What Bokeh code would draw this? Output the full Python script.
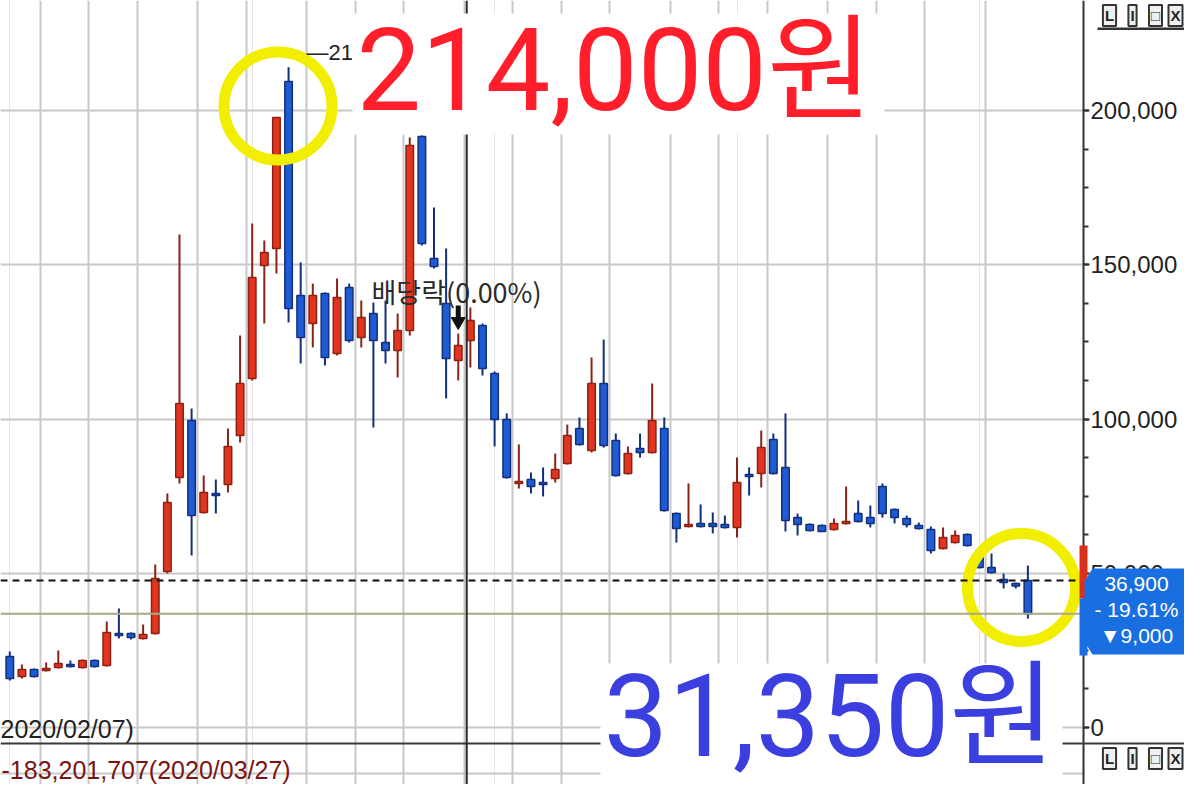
import numpy as np
from bokeh.plotting import figure
from bokeh.models import (Range1d, FixedTicker, NumeralTickFormatter, Span, BoxAnnotation,
                          Label, PolyAnnotation, Grid, ColumnDataSource, LinearAxis)
from bokeh.embed import file_html
from bokeh.resources import INLINE

# ---------------- data (daily candles, KRW) ----------------
opens = [23000, 16500, 18800, 18500, 19450, 20400, 19450, 21700, 20100, 30450,
         30450, 28850, 30450, 50550, 81050, 99500, 69700, 75850, 78750, 94650,
         113150, 149750, 155250, 209400, 140050, 130950, 140700, 121250, 142600, 126400,
         134200, 124800, 122200, 128700, 191550, 152050, 137450, 118950, 125450, 130300,
         114750, 99850, 79100, 80400, 79400, 80700, 85550, 96900, 89800, 111500,
         93050, 82350, 90450, 89150, 96900, 69350, 65150, 66150, 66150, 65800,
         64850, 82000, 82350, 93350, 84300, 68050, 65800, 65500, 64200, 66150,
         69350, 68050, 78100, 70650, 67750, 65500, 64200, 58000, 59950, 62550,
         55100, 51850, 47950, 46650, 47650]
highs = [24600, 20400, 19100, 21100, 24950, 21700, 22050, 22050, 34350, 38600,
         30800, 33400, 52850, 75850, 159800, 103400, 81700, 80400, 96900, 127050,
         163350, 157850, 197750, 214000, 150750, 143900, 141000, 145550, 143900, 138400,
         137750, 138400, 134200, 191250, 191900, 168550, 155250, 127700, 136150, 130950,
         115400, 101800, 91750, 82650, 84300, 88800, 98200, 100500, 119950, 125750,
         95300, 91100, 95300, 111500, 100500, 69700, 79100, 72300, 69700, 68700,
         87500, 84300, 96250, 95300, 101800, 69350, 66150, 65800, 67750, 78100,
         73600, 71950, 79100, 71000, 68700, 66450, 65150, 64850, 63850, 62900,
         55750, 56400, 49900, 47000, 52500]
lows = [15200, 15900, 16200, 18150, 19100, 19450, 19100, 19450, 19800, 28850,
        28500, 28500, 30150, 49900, 79100, 55750, 69350, 69350, 76200, 92400,
        112500, 130950, 147150, 131300, 118000, 123200, 117350, 120600, 124800, 123200,
        97250, 118000, 113450, 127050, 156250, 148800, 106650, 112500, 116700, 114100,
        91100, 80700, 77450, 75850, 74900, 79400, 85250, 91400, 89150, 90750,
        81350, 82000, 87500, 88800, 70000, 59950, 64850, 64850, 62900, 64500,
        61600, 75200, 77800, 82000, 63550, 62250, 63550, 63550, 63850, 65800,
        66450, 64850, 68050, 66150, 64850, 64200, 56400, 57700, 59650, 58650,
        51550, 49900, 45050, 45050, 35300]
closes = [15900, 18800, 16500, 19100, 20750, 19800, 21700, 19800, 30800, 29800,
          29200, 30150, 48300, 72950, 105000, 68700, 76200, 75200, 91100, 111500,
          145850, 153950, 197750, 135800, 126400, 140050, 119950, 139400, 125450, 132900,
          125450, 122200, 128700, 188650, 156900, 149450, 119600, 123800, 131950, 116350,
          99850, 81050, 79750, 78100, 78750, 83650, 94650, 91750, 111500, 91400,
          81700, 88800, 89150, 99500, 70350, 64500, 65800, 65150, 65150, 64850,
          79400, 81350, 90750, 82350, 67100, 65800, 63850, 63550, 66150, 66800,
          66800, 66150, 69350, 68050, 65800, 64500, 57400, 61600, 62250, 59000,
          51850, 50250, 47000, 45900, 36900]

price_ticks = [0, 50000, 100000, 150000, 200000]
minor_price_ticks = [k * 12500 for k in range(0, 17)]
week_breaks = [2.5, 6.5, 10.5, 15.5, 19.5, 24.5, 28.5, 32.5, 37.5, 41.5, 45.5, 49.5,
               54.5, 58.5, 62.5, 67.5, 71.5, 75.5, 80.5]

high_label = "214,000원"
low_label = "31,350원"
last_price_lines = ["36,900", "- 19.61%", "▼9,000"]
ref_line = 47650
dividend_idx = 37
dividend_text = "배당락(0.00%)"
crosshair_x = 37.7
lower_texts = ["2020/02/07)", "-183,201,707(2020/03/27)"]

# ---------------- layout helpers (reference pixel -> data) ----------------
X0, XSTEP = 9.3, 12.12
Y0, YSCALE = 727.0, 3.085 / 1000.0


def px_x(px):
    return (px - X0) / XSTEP


def px_y(py):
    return (Y0 - py) / YSCALE


W, H = 1184, 784
AXIS_PX = 1083
BIG_FONT = "Roboto, Noto Sans CJK KR"
p = figure(width=W, height=H, output_backend="svg", toolbar_location=None,
           x_range=Range1d(px_x(0), px_x(W)), y_range=Range1d(px_y(H), px_y(0)),
           x_axis_location=None, y_axis_location=None,
           min_border_left=0, min_border_top=0, min_border_bottom=0, min_border_right=0)
p.outline_line_color = None
p.background_fill_color = "white"
p.border_fill_color = "white"

tk = FixedTicker(ticks=price_ticks, minor_ticks=minor_price_ticks)

# grids
p.add_layout(Grid(dimension=1, ticker=tk, grid_line_color="#c8c8c8", grid_line_width=2))
p.add_layout(Grid(dimension=0, ticker=FixedTicker(ticks=week_breaks),
                  grid_line_color="#c8c8c8", grid_line_width=2))
p.add_layout(Span(location=px_y(773), dimension="width", line_color="#c8c8c8",
                  line_width=2, level="underlay"))
# blank strip to the right of the price axis
p.add_layout(BoxAnnotation(left=px_x(AXIS_PX + 1), right=px_x(W + 20), fill_color="white",
                           fill_alpha=1, line_color=None, level="underlay"))

# price axis fixed at its pixel column
yaxis = LinearAxis(ticker=tk, formatter=NumeralTickFormatter(format="0,0"),
                   fixed_location=px_x(AXIS_PX))
yaxis.major_label_text_font = "Liberation Sans"
yaxis.major_label_text_font_size = "24px"
yaxis.major_label_text_color = "#222222"
yaxis.axis_line_color = "#333333"
yaxis.axis_line_width = 2
yaxis.major_tick_out = 6
yaxis.major_tick_in = 0
yaxis.minor_tick_out = 5
yaxis.minor_tick_in = 0
yaxis.major_tick_line_width = 2
yaxis.minor_tick_line_width = 2
yaxis.major_tick_line_color = "#333333"
yaxis.minor_tick_line_color = "#333333"
yaxis.major_label_standoff = 1
p.add_layout(yaxis, "right")

# lower panel separator and reference lines
p.add_layout(Span(location=px_y(743), dimension="width", line_color="#3a3a3a", line_width=2))
p.add_layout(Span(location=ref_line, dimension="width", line_color="#111111",
                  line_width=2, line_dash="7 5"))
p.add_layout(Span(location=closes[-1], dimension="width", line_color="#a9a987", line_width=2))
p.add_layout(Span(location=crosshair_x, dimension="height", line_color="#2a2a2a", line_width=2))

# candles
o = np.array(opens, float); c = np.array(closes, float)
h = np.array(highs, float); l = np.array(lows, float)
idx = np.arange(len(o))
up = c >= o
src = ColumnDataSource(dict(
    x=idx, h=h, l=l, top=np.maximum(o, c), bottom=np.minimum(o, c),
    fill=np.where(up, "#e2341e", "#1f5bd4"),
    line=np.where(up, "#8c2214", "#12307a")))
p.segment(x0="x", y0="h", x1="x", y1="l", line_color="line", line_width=2, source=src)
p.vbar(x="x", top="top", bottom="bottom", width=0.62, fill_color="fill",
       line_color="line", line_width=1.5, source=src)

# dividend marker
p.segment(x0=[dividend_idx], y0=[px_y(305)], x1=[dividend_idx], y1=[px_y(318)],
          line_color="#111111", line_width=5)
p.scatter(x=[dividend_idx], y=[px_y(321)], marker="inverted_triangle", size=14,
          fill_color="#111111", line_color="#111111")
p.add_layout(Label(x=px_x(371), y=px_y(291), text=dividend_text, text_font="Noto Sans CJK KR",
                   text_font_size="27px", text_color="#2a2a2a", text_baseline="middle"))

# peak label
p.add_layout(Label(x=px_x(306), y=px_y(52), text="—214,000", text_font="Liberation Sans",
                   text_font_size="22px", text_color="#222222", text_baseline="middle"))

# yellow callout circles
p.scatter(x=[px_x(277.5), px_x(1021)], y=[px_y(105.5), px_y(587)], marker="circle",
          size=108, fill_alpha=0, line_color="#f2ee00", line_width=11)

# big annotations with white backgrounds
p.add_layout(BoxAnnotation(left=px_x(352), right=px_x(884), top=px_y(13), bottom=px_y(134),
                           fill_color="white", fill_alpha=1, line_color=None))
p.add_layout(Label(x=px_x(356), y=px_y(70), text=high_label, text_font=BIG_FONT,
                   text_font_size="115px", text_color="#ff1e2a", text_baseline="middle"))
p.add_layout(BoxAnnotation(left=px_x(600), right=px_x(1062), top=px_y(663), bottom=px_y(820),
                           fill_color="white", fill_alpha=1, line_color=None))
p.add_layout(Label(x=px_x(603), y=px_y(716), text=low_label, text_font=BIG_FONT,
                   text_font_size="115px", text_color="#3b3fe0", text_baseline="middle"))

# lower panel texts
p.add_layout(Label(x=px_x(0), y=px_y(728), text=lower_texts[0], text_font="Liberation Sans",
                   text_font_size="25px", text_color="#222222", text_baseline="middle"))
p.add_layout(Label(x=px_x(1), y=px_y(769), text=lower_texts[1], text_font="Liberation Sans",
                   text_font_size="25px", text_color="#7a1414", text_baseline="middle"))

# axis-side current price marker bar
p.add_layout(PolyAnnotation(xs=[px_x(1079), px_x(1087), px_x(1087), px_x(1079)],
                            ys=[px_y(545), px_y(545), px_y(598), px_y(598)],
                            fill_color="#d8301a", fill_alpha=1, line_color=None))
p.add_layout(PolyAnnotation(xs=[px_x(1079), px_x(1087), px_x(1087), px_x(1079)],
                            ys=[px_y(598), px_y(598), px_y(655), px_y(655)],
                            fill_color="#1a6fe0", fill_alpha=1, line_color=None))
# blue price box
bx = [1092, 1200, 1200, 1092, 1084, 1084]
by = [568, 568, 654, 654, 641, 581]
p.add_layout(PolyAnnotation(xs=[px_x(v) for v in bx], ys=[px_y(v) for v in by],
                            fill_color="#1a6fe0", fill_alpha=1, line_color=None))
for t, yy in zip(last_price_lines, [583, 609, 635]):
    p.add_layout(Label(x=px_x(1136), y=px_y(yy), text=t, text_font="Liberation Sans",
                       text_font_size="21px", text_color="white", text_align="center",
                       text_baseline="middle"))

# window buttons
p.add_layout(BoxAnnotation(left=px_x(1097), right=px_x(1200), top=px_y(27), bottom=px_y(29.5),
                           fill_color="#333333", fill_alpha=1, line_color=None))
for row_y in [15, 758]:
    for t, xx in zip(["L", "I", "□", "X"], [1109, 1132, 1155, 1175]):
        p.add_layout(Label(x=px_x(xx), y=px_y(row_y), text=t, text_font="Liberation Sans",
                           text_font_size="15px", text_font_style="bold", text_color="#222222",
                           text_align="center", text_baseline="middle",
                           border_line_color="#333333", border_line_width=2,
                           background_fill_color="#f0f0f0", padding=2))

open("out.html", "w").write(file_html(p, INLINE))
